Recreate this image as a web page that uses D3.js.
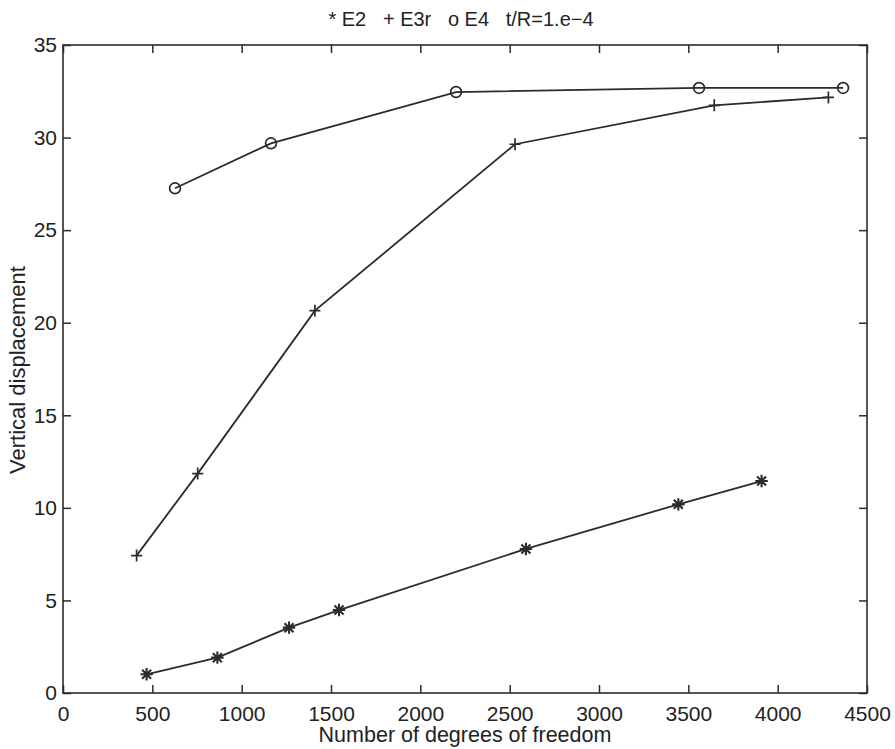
<!DOCTYPE html>
<html>
<head>
<meta charset="utf-8">
<script src="https://cdn.jsdelivr.net/npm/d3@7"></script>
<style>
  html, body { margin: 0; padding: 0; background: #fff; }
  svg { display: block; }
  text { font-family: "Liberation Sans", Arial, Helvetica, sans-serif; fill: #222; }
</style>
</head>
<body>
<svg id="chart" width="895" height="749"></svg>
<script>
// Degrees of freedom vs. vertical displacement for three element types
const e2Dof  = [468, 864, 1265, 1545, 2591, 3444, 3910];
const e2Disp = [1.01, 1.91, 3.53, 4.48, 7.78, 10.19, 11.45];

const e3rDof  = [412, 754, 1410, 2530, 3645, 4284];
const e3rDisp = [7.42, 11.85, 20.65, 29.64, 31.74, 32.17];

const e4Dof  = [627, 1164, 2200, 3560, 4366];
const e4Disp = [27.26, 29.69, 32.46, 32.68, 32.68];

const xTicks = [0, 500, 1000, 1500, 2000, 2500, 3000, 3500, 4000, 4500];
const yTicks = [0, 5, 10, 15, 20, 25, 30, 35];

const titleText = "* E2   + E3r   o E4   t/R=1.e\u22124";
const xLabel = "Number of degrees of freedom";
const yLabel = "Vertical displacement";

const ink = "#2b2b2b";
const svg = d3.select("#chart");
const plot = { left: 63, top: 45, right: 867, bottom: 693 };

const x = d3.scaleLinear().domain([0, 4500]).range([plot.left, plot.right]);
const y = d3.scaleLinear().domain([0, 35]).range([plot.bottom, plot.top]);

const tickLen = 8;
const axisFont = "21px";

// Axes with inward ticks on all four sides
function styleAxis(g) {
  g.select(".domain").remove();
  g.selectAll(".tick line").attr("stroke", ink).attr("stroke-width", 1.5);
  g.selectAll(".tick text").style("font-size", axisFont).attr("fill", ink);
}

svg.append("g")
  .attr("transform", `translate(0,${plot.bottom})`)
  .call(d3.axisBottom(x).tickValues(xTicks).tickFormat(d3.format("d"))
        .tickSizeInner(-tickLen).tickSizeOuter(0))
  .call(styleAxis)
  .call(g => g.selectAll(".tick text").attr("dy", 0).attr("y", 28));

svg.append("g")
  .attr("transform", `translate(0,${plot.top})`)
  .call(d3.axisTop(x).tickValues(xTicks).tickFormat("").tickSizeInner(-tickLen).tickSizeOuter(0))
  .call(styleAxis);

svg.append("g")
  .attr("transform", `translate(${plot.left},0)`)
  .call(d3.axisLeft(y).tickValues(yTicks).tickFormat(d3.format("d"))
        .tickSizeInner(-tickLen).tickSizeOuter(0).tickPadding(6))
  .call(styleAxis);

svg.append("g")
  .attr("transform", `translate(${plot.right},0)`)
  .call(d3.axisRight(y).tickValues(yTicks).tickFormat("").tickSizeInner(-tickLen).tickSizeOuter(0))
  .call(styleAxis);

// Plot frame
svg.append("rect")
  .attr("x", plot.left).attr("y", plot.top)
  .attr("width", plot.right - plot.left).attr("height", plot.bottom - plot.top)
  .attr("fill", "none").attr("stroke", ink).attr("stroke-width", 1.6);

const line = d3.line().x(d => x(d[0])).y(d => y(d[1]));

function drawSeries(dof, disp, marker) {
  const pts = dof.map((d, i) => [d, disp[i]]);
  svg.append("path").datum(pts)
    .attr("d", line).attr("fill", "none")
    .attr("stroke", ink).attr("stroke-width", 1.8);
  const g = svg.append("g").attr("stroke", ink).attr("fill", "none");
  pts.forEach(p => {
    const cx = x(p[0]), cy = y(p[1]);
    if (marker === "o") {
      g.append("circle").attr("cx", cx).attr("cy", cy).attr("r", 5.4).attr("stroke-width", 1.7);
    } else if (marker === "+") {
      g.append("path").attr("stroke-width", 1.7)
        .attr("d", `M${cx - 5.5},${cy}H${cx + 5.5}M${cx},${cy - 6}V${cy + 6}`);
    } else {
      const r = 6.2, s = 4.5;
      g.append("path").attr("stroke-width", 2.1)
        .attr("d", `M${cx - r},${cy}H${cx + r}M${cx},${cy - r}V${cy + r}` +
                   `M${cx - s},${cy - s}L${cx + s},${cy + s}M${cx - s},${cy + s}L${cx + s},${cy - s}`);
    }
  });
}

drawSeries(e4Dof, e4Disp, "o");
drawSeries(e3rDof, e3rDisp, "+");
drawSeries(e2Dof, e2Disp, "*");

// Title and axis labels
svg.append("text")
  .attr("x", 461).attr("y", 26)
  .attr("text-anchor", "middle")
  .style("font-size", "20px")
  .style("white-space", "pre")
  .attr("xml:space", "preserve")
  .text(titleText);

svg.append("text")
  .attr("x", 465).attr("y", 742)
  .attr("text-anchor", "middle")
  .style("font-size", "21.5px")
  .text(xLabel);

svg.append("text")
  .attr("transform", "translate(25,370) rotate(-90)")
  .attr("text-anchor", "middle")
  .style("font-size", "22px")
  .text(yLabel);
</script>
</body>
</html>
